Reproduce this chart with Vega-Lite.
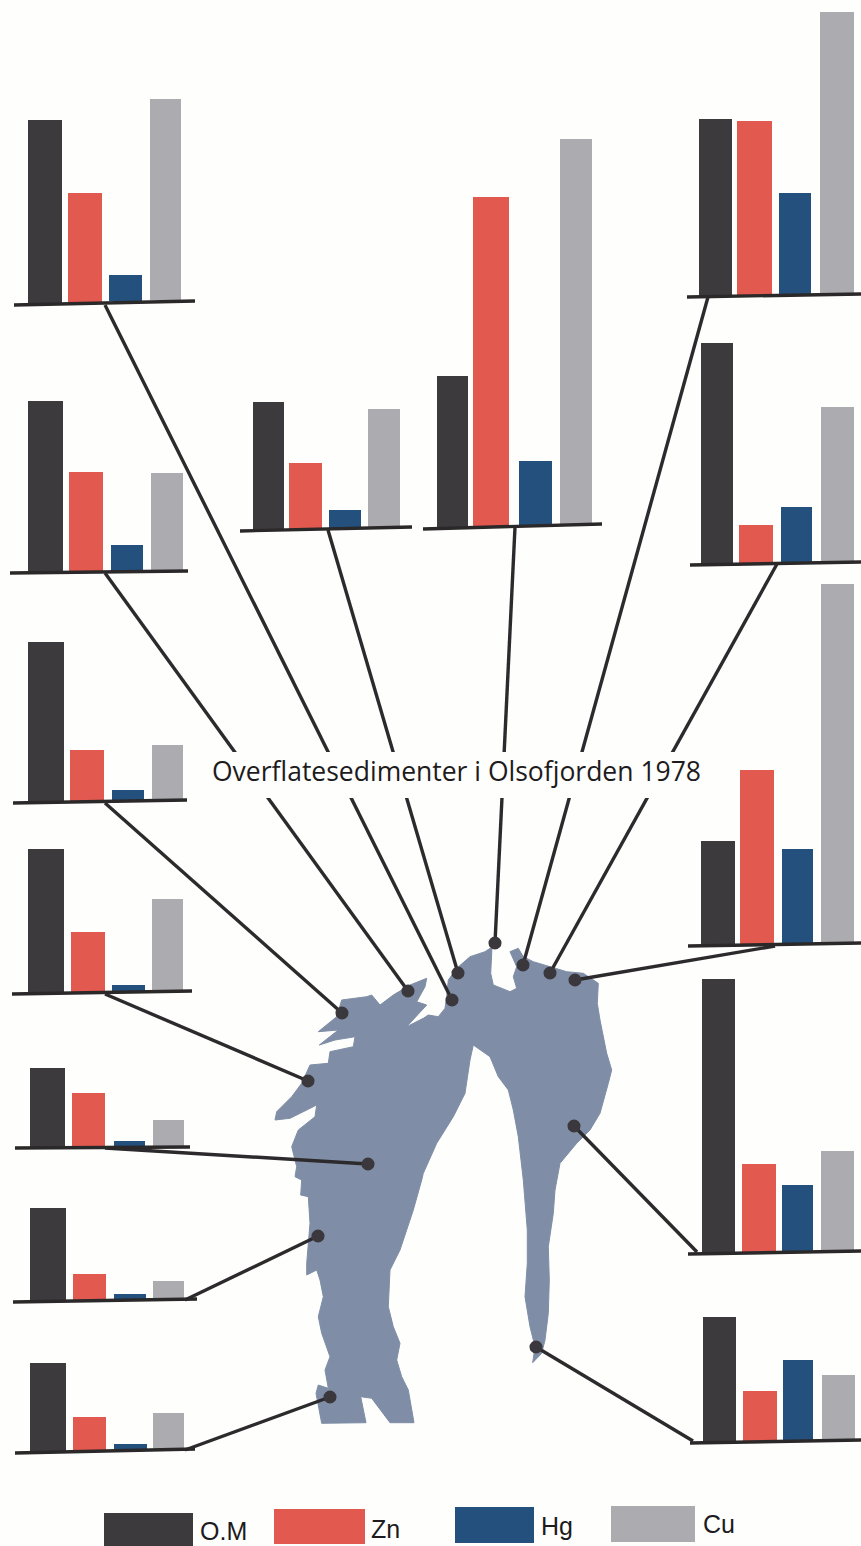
{
"$schema":"https://vega.github.io/schema/vega-lite/v6.json",
"width":861,"height":1546,"padding":0,
"autosize":"none",
"background":"#fefefc",
"view":{"stroke":null},
"config":{"axis":{"disable":true}},
"datasets":{
"bars":[
{"s":"A","metal":"O.M","x":28,"x2":62,"top":120,"base":303},{"s":"A","metal":"Zn","x":68,"x2":102,"top":193,"base":302},{"s":"A","metal":"Hg","x":109,"x2":142,"top":275,"base":301},{"s":"A","metal":"Cu","x":150,"x2":181,"top":99,"base":300},
{"s":"B","metal":"O.M","x":28,"x2":63,"top":401,"base":572},{"s":"B","metal":"Zn","x":69,"x2":103,"top":472,"base":571},{"s":"B","metal":"Hg","x":111,"x2":143,"top":545,"base":571},{"s":"B","metal":"Cu","x":151,"x2":183,"top":473,"base":570},
{"s":"C","metal":"O.M","x":28,"x2":64,"top":642,"base":802},{"s":"C","metal":"Zn","x":70,"x2":104,"top":750,"base":802},{"s":"C","metal":"Hg","x":112,"x2":144,"top":790,"base":801},{"s":"C","metal":"Cu","x":152,"x2":183,"top":745,"base":800},
{"s":"D","metal":"O.M","x":28,"x2":64,"top":849,"base":993},{"s":"D","metal":"Zn","x":71,"x2":105,"top":932,"base":993},{"s":"D","metal":"Hg","x":112,"x2":145,"top":985,"base":992},{"s":"D","metal":"Cu","x":152,"x2":183,"top":899,"base":991},
{"s":"E","metal":"O.M","x":30,"x2":65,"top":1068,"base":1148},{"s":"E","metal":"Zn","x":72,"x2":105,"top":1093,"base":1148},{"s":"E","metal":"Hg","x":114,"x2":145,"top":1141,"base":1147},{"s":"E","metal":"Cu","x":153,"x2":184,"top":1120,"base":1147},
{"s":"F","metal":"O.M","x":30,"x2":66,"top":1208,"base":1302},{"s":"F","metal":"Zn","x":73,"x2":106,"top":1274,"base":1301},{"s":"F","metal":"Hg","x":114,"x2":146,"top":1294,"base":1300},{"s":"F","metal":"Cu","x":153,"x2":184,"top":1281,"base":1300},
{"s":"G","metal":"O.M","x":30,"x2":66,"top":1363,"base":1452},{"s":"G","metal":"Zn","x":73,"x2":106,"top":1417,"base":1451},{"s":"G","metal":"Hg","x":114,"x2":147,"top":1444,"base":1450},{"s":"G","metal":"Cu","x":153,"x2":184,"top":1413,"base":1450},
{"s":"H","metal":"O.M","x":253,"x2":284,"top":402,"base":530},{"s":"H","metal":"Zn","x":289,"x2":322,"top":463,"base":529},{"s":"H","metal":"Hg","x":329,"x2":361,"top":510,"base":528},{"s":"H","metal":"Cu","x":368,"x2":400,"top":409,"base":528},
{"s":"I","metal":"O.M","x":437,"x2":468,"top":376,"base":528},{"s":"I","metal":"Zn","x":473,"x2":509,"top":197,"base":527},{"s":"I","metal":"Hg","x":519,"x2":552,"top":461,"base":526},{"s":"I","metal":"Cu","x":560,"x2":592,"top":139,"base":525},
{"s":"J","metal":"O.M","x":699,"x2":732,"top":119,"base":296},{"s":"J","metal":"Zn","x":737,"x2":772,"top":121,"base":295},{"s":"J","metal":"Hg","x":779,"x2":811,"top":193,"base":295},{"s":"J","metal":"Cu","x":820,"x2":854,"top":12,"base":294},
{"s":"K","metal":"O.M","x":701,"x2":733,"top":343,"base":564},{"s":"K","metal":"Zn","x":739,"x2":773,"top":525,"base":563},{"s":"K","metal":"Hg","x":781,"x2":812,"top":507,"base":563},{"s":"K","metal":"Cu","x":821,"x2":854,"top":407,"base":562},
{"s":"L","metal":"O.M","x":701,"x2":735,"top":841,"base":945},{"s":"L","metal":"Zn","x":740,"x2":774,"top":770,"base":945},{"s":"L","metal":"Hg","x":782,"x2":813,"top":849,"base":944},{"s":"L","metal":"Cu","x":821,"x2":854,"top":584,"base":943},
{"s":"M","metal":"O.M","x":702,"x2":735,"top":979,"base":1253},{"s":"M","metal":"Zn","x":742,"x2":776,"top":1164,"base":1253},{"s":"M","metal":"Hg","x":782,"x2":813,"top":1185,"base":1252},{"s":"M","metal":"Cu","x":821,"x2":854,"top":1151,"base":1251},
{"s":"N","metal":"O.M","x":703,"x2":736,"top":1317,"base":1442},{"s":"N","metal":"Zn","x":743,"x2":777,"top":1391,"base":1441},{"s":"N","metal":"Hg","x":783,"x2":813,"top":1360,"base":1441},{"s":"N","metal":"Cu","x":822,"x2":855,"top":1375,"base":1440},
{"s":"legend","metal":"O.M","x":104,"x2":193,"top":1513,"base":1546},{"s":"legend","metal":"Zn","x":274,"x2":365,"top":1509,"base":1544},{"s":"legend","metal":"Hg","x":455,"x2":534,"top":1507,"base":1543},{"s":"legend","metal":"Cu","x":611,"x2":695,"top":1506,"base":1542}
],
"axes":[
{"x":14,"y":305,"x2":195,"y2":301},{"x":10,"y":573,"x2":188,"y2":571},{"x":13,"y":803,"x2":187,"y2":800},{"x":12,"y":994,"x2":192,"y2":991},{"x":15,"y":1148,"x2":190,"y2":1147},{"x":13,"y":1302,"x2":197,"y2":1299},{"x":15,"y":1453,"x2":195,"y2":1449},{"x":240,"y":531,"x2":412,"y2":527},{"x":423,"y":529,"x2":602,"y2":524},{"x":687,"y":297,"x2":861,"y2":294},{"x":690,"y":565,"x2":861,"y2":562},{"x":688,"y":946,"x2":861,"y2":943},{"x":688,"y":1254,"x2":861,"y2":1251},{"x":690,"y":1443,"x2":861,"y2":1440}
],
"leaders":[
{"x":105,"y":305,"x2":452,"y2":1000},{"x":105,"y":573,"x2":408,"y2":991},{"x":105,"y":803,"x2":342,"y2":1013},{"x":105,"y":994,"x2":308,"y2":1081},{"x":105,"y":1148,"x2":368,"y2":1164},{"x":185,"y":1300,"x2":318,"y2":1236},{"x":185,"y":1450,"x2":330,"y2":1397},{"x":328,"y":530,"x2":458,"y2":973},{"x":515,"y":527,"x2":495,"y2":943},{"x":708,"y":297,"x2":523,"y2":965},{"x":777,"y":564,"x2":550,"y2":973},{"x":775,"y":946,"x2":575,"y2":980},{"x":697,"y":1252,"x2":574,"y2":1126},{"x":693,"y":1441,"x2":536,"y2":1347}
],
"dots":[
{"x":452,"y":1000},{"x":408,"y":991},{"x":342,"y":1013},{"x":308,"y":1081},{"x":368,"y":1164},{"x":318,"y":1236},{"x":330,"y":1397},{"x":458,"y":973},{"x":495,"y":943},{"x":523,"y":965},{"x":550,"y":973},{"x":575,"y":980},{"x":574,"y":1126},{"x":536,"y":1347}
],
"fjord":[
{"i":1,"x":492,"y":947},{"i":2,"x":490.7,"y":973.3},{"i":3,"x":493.3,"y":985},{"i":4,"x":501.7,"y":988.3},{"i":5,"x":510,"y":991.7},{"i":6,"x":516.7,"y":988.3},{"i":7,"x":513.3,"y":976.7},{"i":8,"x":516.7,"y":966.7},{"i":9,"x":510,"y":951.7},{"i":10,"x":518.3,"y":948.3},{"i":11,"x":523.3,"y":956.7},{"i":12,"x":533.3,"y":961.7},{"i":13,"x":550,"y":966.7},{"i":14,"x":566.7,"y":971.7},{"i":15,"x":583.3,"y":973.3},{"i":16,"x":598.3,"y":983.3},{"i":17,"x":597.3,"y":1003.3},{"i":18,"x":600,"y":1020},{"i":19,"x":606.7,"y":1053.3},{"i":20,"x":611.7,"y":1070},{"i":21,"x":608.3,"y":1083.3},{"i":22,"x":600,"y":1113.3},{"i":23,"x":590,"y":1130},{"i":24,"x":576.7,"y":1143.3},{"i":25,"x":560,"y":1163.3},{"i":26,"x":555,"y":1190},{"i":27,"x":553.3,"y":1213.3},{"i":28,"x":548.3,"y":1246.7},{"i":29,"x":549.3,"y":1280},{"i":30,"x":548.3,"y":1313.3},{"i":31,"x":545,"y":1340},{"i":32,"x":541.7,"y":1353.3},{"i":33,"x":532.7,"y":1362.7},{"i":34,"x":535,"y":1346.7},{"i":35,"x":530,"y":1326.7},{"i":36,"x":525,"y":1296.7},{"i":37,"x":527.3,"y":1263.3},{"i":38,"x":527.3,"y":1230},{"i":39,"x":523.3,"y":1180},{"i":40,"x":518.3,"y":1136.7},{"i":41,"x":513.3,"y":1110},{"i":42,"x":508.3,"y":1090},{"i":43,"x":498.3,"y":1076.7},{"i":44,"x":490,"y":1056.7},{"i":45,"x":473.3,"y":1045},{"i":46,"x":470,"y":1060},{"i":47,"x":465,"y":1093.3},{"i":48,"x":453.3,"y":1116.7},{"i":49,"x":436.7,"y":1143.3},{"i":50,"x":423.3,"y":1173.3},{"i":51,"x":421.7,"y":1180},{"i":52,"x":413.3,"y":1210},{"i":53,"x":400,"y":1250},{"i":54,"x":390,"y":1270},{"i":55,"x":388.3,"y":1306.7},{"i":56,"x":393.3,"y":1326.7},{"i":57,"x":400,"y":1343.3},{"i":58,"x":396.7,"y":1360},{"i":59,"x":401.7,"y":1376.7},{"i":60,"x":408.3,"y":1390},{"i":61,"x":414,"y":1422.7},{"i":62,"x":390,"y":1422.7},{"i":63,"x":371.7,"y":1398.3},{"i":64,"x":360.7,"y":1396.7},{"i":65,"x":366,"y":1422.7},{"i":66,"x":321.7,"y":1423.3},{"i":67,"x":316,"y":1393.3},{"i":68,"x":318.3,"y":1385},{"i":69,"x":328.3,"y":1388.3},{"i":70,"x":325,"y":1370},{"i":71,"x":330,"y":1356.7},{"i":72,"x":321.7,"y":1333.3},{"i":73,"x":318.3,"y":1316.7},{"i":74,"x":323.3,"y":1296.7},{"i":75,"x":320,"y":1280},{"i":76,"x":316.7,"y":1270},{"i":77,"x":306.7,"y":1275},{"i":78,"x":306.7,"y":1263.3},{"i":79,"x":310,"y":1223.3},{"i":80,"x":308.3,"y":1196.7},{"i":81,"x":300.7,"y":1195},{"i":82,"x":301.7,"y":1180},{"i":83,"x":295,"y":1176.7},{"i":84,"x":296.7,"y":1166.7},{"i":85,"x":291.7,"y":1146.7},{"i":86,"x":298.3,"y":1130},{"i":87,"x":315,"y":1116.7},{"i":88,"x":316.7,"y":1105},{"i":89,"x":303.3,"y":1111.7},{"i":90,"x":290,"y":1118.3},{"i":91,"x":275,"y":1120},{"i":92,"x":276.7,"y":1111.7},{"i":93,"x":291.7,"y":1096.7},{"i":94,"x":301.7,"y":1083.3},{"i":95,"x":310,"y":1065},{"i":96,"x":328.3,"y":1063.3},{"i":97,"x":330,"y":1051.7},{"i":98,"x":353.3,"y":1046.7},{"i":99,"x":355,"y":1036.7},{"i":100,"x":335,"y":1040},{"i":101,"x":319.3,"y":1045},{"i":102,"x":338.3,"y":1030},{"i":103,"x":318.3,"y":1031.7},{"i":104,"x":336.7,"y":1016.7},{"i":105,"x":341.7,"y":1000},{"i":106,"x":366.7,"y":996.7},{"i":107,"x":371.7,"y":995},{"i":108,"x":380,"y":1005},{"i":109,"x":393.3,"y":995},{"i":110,"x":410,"y":985},{"i":111,"x":426.7,"y":978.3},{"i":112,"x":425,"y":986.7},{"i":113,"x":416.7,"y":1001.7},{"i":114,"x":426.7,"y":1005},{"i":115,"x":406.7,"y":1026.7},{"i":116,"x":423.3,"y":1018.3},{"i":117,"x":428.3,"y":1015},{"i":118,"x":438.3,"y":1016.7},{"i":119,"x":445,"y":1008.3},{"i":120,"x":446.7,"y":996.7},{"i":121,"x":448.3,"y":980},{"i":122,"x":456.7,"y":968.3},{"i":123,"x":470,"y":956.7},{"i":124,"x":485,"y":951.7},{"i":125,"x":492,"y":947}
],
"legendText":[
{"t":"O.M","x":200,"y":1540},{"t":"Zn","x":371,"y":1538},{"t":"Hg","x":541,"y":1535},{"t":"Cu","x":703,"y":1533}
]
},
"layer":[
{"data":{"name":"fjord"},"mark":{"type":"line","fill":"#7f8ea6","stroke":"#7f8ea6","strokeWidth":1},
 "encoding":{"x":{"field":"x","type":"quantitative","scale":{"domain":[0,861],"nice":false,"zero":false},"axis":null},
 "y":{"field":"y","type":"quantitative","scale":{"domain":[0,1546],"reverse":true,"nice":false,"zero":false},"axis":null},
 "order":{"field":"i","type":"quantitative"}}},
{"data":{"name":"leaders"},"mark":{"type":"rule","stroke":"#2c2a2c","strokeWidth":3.4},
 "encoding":{"x":{"field":"x","type":"quantitative"},"y":{"field":"y","type":"quantitative"},"x2":{"field":"x2"},"y2":{"field":"y2"}}},
{"data":{"values":[{"x":207,"x2":705,"y":752,"y2":798}]},"mark":{"type":"rect","fill":"#fefefc"},
 "encoding":{"x":{"field":"x","type":"quantitative"},"x2":{"field":"x2"},"y":{"field":"y","type":"quantitative"},"y2":{"field":"y2"}}},
{"data":{"values":[{"t":"Overflatesedimenter i Olsofjorden 1978","x":212,"y":781}]},"mark":{"type":"text","font":"Open Sans","fontSize":26.5,"align":"left","baseline":"alphabetic","fill":"#1d1b1d"},
 "encoding":{"x":{"field":"x","type":"quantitative"},"y":{"field":"y","type":"quantitative"},"text":{"field":"t"}}},
{"data":{"name":"bars"},"mark":{"type":"rect"},
 "encoding":{"x":{"field":"x","type":"quantitative"},"x2":{"field":"x2"},"y":{"field":"top","type":"quantitative"},"y2":{"field":"base"},
 "color":{"field":"metal","type":"nominal","legend":null,"scale":{"domain":["O.M","Zn","Hg","Cu"],"range":["#3d3a3d","#e2594f","#24507e","#ababb0"]}}}},
{"data":{"name":"axes"},"mark":{"type":"rule","stroke":"#2a2829","strokeWidth":3.4},
 "encoding":{"x":{"field":"x","type":"quantitative"},"y":{"field":"y","type":"quantitative"},"x2":{"field":"x2"},"y2":{"field":"y2"}}},
{"data":{"name":"dots"},"mark":{"type":"point","filled":true,"opacity":1,"size":170,"fill":"#3a383c"},
 "encoding":{"x":{"field":"x","type":"quantitative"},"y":{"field":"y","type":"quantitative"}}},
{"data":{"name":"legendText"},"mark":{"type":"text","font":"Liberation Sans","fontSize":25,"align":"left","baseline":"alphabetic","fill":"#1d1b1d"},
 "encoding":{"x":{"field":"x","type":"quantitative"},"y":{"field":"y","type":"quantitative"},"text":{"field":"t"}}}
]
}
